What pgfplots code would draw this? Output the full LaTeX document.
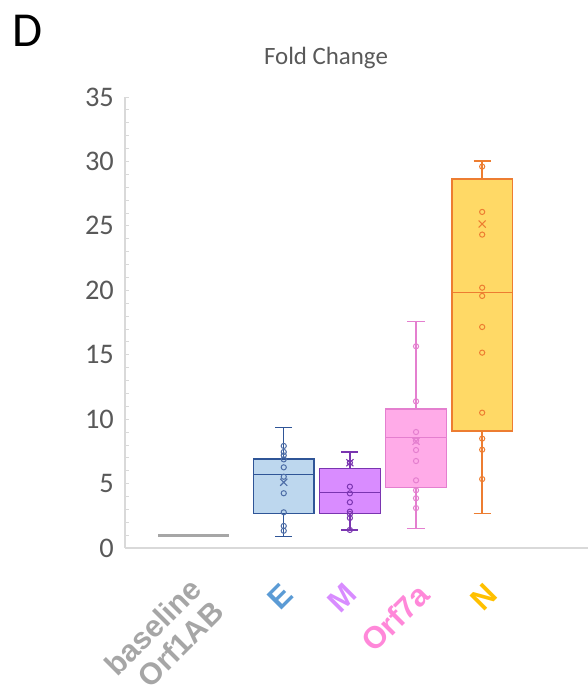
\documentclass[border=0pt]{standalone}
\usepackage{fontspec}
\setmainfont{Carlito}
\newfontfamily\labfont{Liberation Sans}
\usepackage{pgfplots}
\pgfplotsset{compat=1.18}
\usepgfplotslibrary{statistics}
\definecolor{axgray}{HTML}{D9D9D9}
\definecolor{txtgray}{HTML}{595959}
\definecolor{basegray}{HTML}{A6A6A6}
\definecolor{Efill}{HTML}{BDD7EE}
\definecolor{Edraw}{HTML}{2F5597}
\definecolor{Elab}{HTML}{5B9BD5}
\definecolor{Mfill}{HTML}{D98CFF}
\definecolor{Mdraw}{HTML}{7A35B0}
\definecolor{Mlab}{HTML}{D88CFF}
\definecolor{Ofill}{HTML}{FFABE8}
\definecolor{Odraw}{HTML}{E47FCF}
\definecolor{Olab}{HTML}{FF88D9}
\definecolor{Nfill}{HTML}{FFD966}
\definecolor{Ndraw}{HTML}{ED7D31}
\definecolor{Nlab}{HTML}{FFC000}
\begin{document}
\begin{tikzpicture}[x=1bp,y=1bp]
\useasboundingbox (0,0) rectangle (588,689);
\begin{axis}[
  at={(125bp,141bp)}, anchor=south west,
  scale only axis, width=463bp, height=451bp,
  xmin=0, xmax=7, ymin=0, ymax=35,
  axis x line*=bottom, axis y line*=left,
  axis line style={axgray, line width=1.2bp, -},
  xtick=\empty,
  ytick={0,5,...,35}, minor y tick num=4,
  tick align=inside,
  major tick length=4bp, minor tick length=4bp,
  tick style={axgray, line width=0.8bp},
  /pgf/number format/assume math mode=true,
  yticklabel style={font=\fontsize{28.5}{28.5}\selectfont, text=txtgray, anchor=east, inner sep=0pt, xshift=-11bp},
  clip=false,
  boxplot/draw direction=y,
  boxplot/box extend=0.92,
  boxplot/whisker extend=0.26,
]
% baseline
\addplot[draw=basegray, line width=3bp] coordinates {(0.5,1) (1.57,1)};
% E
\addplot[boxplot prepared={draw position=2.4, lower whisker=0.91, lower quartile=2.66, median=5.72, upper quartile=6.91, upper whisker=9.37}, draw=Edraw, fill=Efill, line width=1.5bp, mark=none] coordinates {};
\addplot[only marks, mark=o, mark size=2.6bp, draw=Edraw!85!white, line width=1bp] coordinates {(2.4,7.92) (2.4,7.45) (2.4,7.19) (2.4,6.88) (2.4,6.26) (2.4,5.53) (2.4,4.25) (2.4,2.77) (2.4,1.71) (2.4,1.34)};
\addplot[only marks, mark=x, mark size=5bp, draw=Edraw!85!white, line width=1.1bp] coordinates {(2.4,5.10)};
% M
\addplot[boxplot prepared={draw position=3.4, lower whisker=1.40, lower quartile=2.66, median=4.32, upper quartile=6.16, upper whisker=7.45}, draw=Mdraw, fill=Mfill, line width=1.5bp, mark=none] coordinates {};
\addplot[only marks, mark=o, mark size=2.6bp, draw=Mdraw, line width=1bp] coordinates {(3.4,6.62) (3.4,4.76) (3.4,4.24) (3.4,3.55) (3.4,2.82) (3.4,2.64) (3.4,2.33) (3.4,1.40)};
\addplot[only marks, mark=x, mark size=5bp, draw=Mdraw, line width=1.1bp] coordinates {(3.4,6.62)};
% Orf7a
\addplot[boxplot prepared={draw position=4.4, lower whisker=1.53, lower quartile=4.71, median=8.56, upper quartile=10.79, upper whisker=17.56}, draw=Odraw, fill=Ofill, line width=1.5bp, mark=none] coordinates {};
\addplot[only marks, mark=o, mark size=2.6bp, draw=Odraw, line width=1bp] coordinates {(4.4,15.65) (4.4,11.38) (4.4,9.0) (4.4,8.33) (4.4,7.6) (4.4,6.75) (4.4,5.25) (4.4,4.48) (4.4,3.86) (4.4,3.1)};
\addplot[only marks, mark=x, mark size=5bp, draw=Odraw, line width=1.1bp] coordinates {(4.4,8.28)};
% N
\addplot[boxplot prepared={draw position=5.4, lower whisker=2.66, lower quartile=9.08, median=19.84, upper quartile=28.64, upper whisker=30.03}, draw=Ndraw, fill=Nfill, line width=1.5bp, mark=none] coordinates {};
\addplot[only marks, mark=o, mark size=2.6bp, draw=Ndraw, line width=1bp] coordinates {(5.4,29.6) (5.4,26.08) (5.4,24.32) (5.4,20.2) (5.4,19.56) (5.4,17.15) (5.4,15.16) (5.4,10.5) (5.4,8.49) (5.4,7.63) (5.4,5.35)};
\addplot[only marks, mark=x, mark size=5bp, draw=Ndraw, line width=1.1bp] coordinates {(5.4,25.14)};
\end{axis}
% title and panel letter
\node[anchor=base, inner sep=0pt, text=txtgray, font=\fontsize{25}{25}\selectfont] at (326,624) {Fold Change};
\node[anchor=base west, inner sep=0pt, font=\fontsize{49}{49}\selectfont] at (12,642) {D};
% category labels
\node[rotate=45, anchor=east, inner sep=0pt, align=right, text=basegray, font=\labfont\bfseries\fontsize{30.5}{35}\selectfont] at (207,94) {baseline\\[-3bp]Orf1AB};
\node[rotate=45, anchor=east, inner sep=0pt, text=Elab, font=\labfont\bfseries\fontsize{31}{35}\selectfont] at (288,100) {E};
\node[rotate=45, anchor=east, inner sep=0pt, text=Mlab, font=\labfont\bfseries\fontsize{31}{35}\selectfont] at (351,100) {M};
\node[rotate=45, anchor=east, inner sep=0pt, text=Olab, font=\labfont\bfseries\fontsize{31}{35}\selectfont] at (424,100) {Orf7a};
\node[rotate=45, anchor=east, inner sep=0pt, text=Nlab, font=\labfont\bfseries\fontsize{31}{35}\selectfont] at (492,100) {N};
\end{tikzpicture}
\end{document}
